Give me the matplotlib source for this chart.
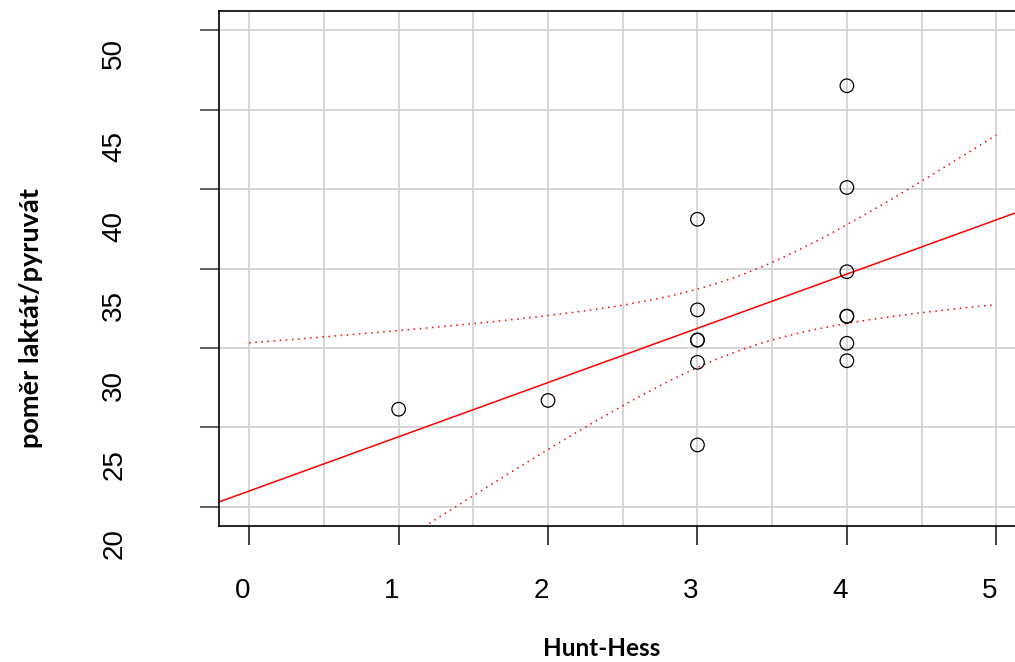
import numpy as np
import matplotlib
matplotlib.use("Agg")
import matplotlib.pyplot as plt
from matplotlib import transforms

# Hunt-Hess grade vs lactate/pyruvate ratio
hunt_hess = [1, 2, 3, 3, 3, 3, 3, 3, 4, 4, 4, 4, 4, 4, 4]
lp_ratio = [26.15, 26.7, 38.1, 32.4, 30.5, 30.5, 29.1, 23.9,
            46.5, 40.1, 34.8, 32.0, 32.0, 30.3, 29.2]
x_ticks = [0, 1, 2, 3, 4, 5]
y_ticks = [20, 25, 30, 35, 40, 45, 50]
t_crit = 1.771  # t(0.95, df=13)

x = np.array(hunt_hess, dtype=float)
y = np.array(lp_ratio)
slope, icpt = np.polyfit(x, y, 1)
n = len(x)
resid = y - (icpt + slope * x)
s = np.sqrt(np.sum(resid ** 2) / (n - 2))
sxx = np.sum((x - x.mean()) ** 2)
xs = np.linspace(0, 5, 101)
fit = icpt + slope * xs
half = t_crit * s * np.sqrt(1 / n + (xs - x.mean()) ** 2 / sxx)

fig = plt.figure(figsize=(10.15, 6.62), dpi=100)
ax = fig.add_axes([0.2161, 0.2054, 0.7949, 0.7779])
ax.set_xlim(-0.2, 5.2)
ax.set_ylim(18.8, 51.2)

for gx in np.arange(0, 5.01, 0.5):
    ax.axvline(gx, color="#d3d3d3", lw=1.3, zorder=0)
for gy in y_ticks:
    ax.axhline(gy, color="#d3d3d3", lw=1.3, zorder=0)

ax.axline((0, icpt), slope=slope, color="red", lw=1.1, zorder=2)
ax.plot(xs, fit + half, color="red", lw=1.1, ls=(0, (1, 3)), zorder=2)
ax.plot(xs, fit - half, color="red", lw=1.1, ls=(0, (1, 3)), zorder=2)
ax.scatter(x, y, s=95, facecolors="none", edgecolors="black", linewidths=0.9, zorder=3)

for sp in ax.spines.values():
    sp.set_linewidth(1.2)
ax.spines["right"].set_visible(False)

ax.set_xticks(x_ticks, labels=[])
ax.set_yticks(y_ticks, labels=[])
ax.tick_params(axis="x", length=14, width=1.2, color="#222222")
ax.tick_params(axis="y", length=14, width=1.2, color="#444444")

tick_font = dict(family="Liberation Sans", fontsize=20)
xoff = transforms.ScaledTranslation(-0.07, -0.52, fig.dpi_scale_trans)
for v in x_ticks:
    ax.text(v, 0, str(v), ha="center", va="top",
            transform=ax.get_xaxis_transform() + xoff, **tick_font)
for v in y_ticks:
    dy = 0.23 if v == 50 else 0.37  # top label sits closer to its tick
    yoff = transforms.ScaledTranslation(-1.05, -dy, fig.dpi_scale_trans)
    ax.text(0, v, str(v), ha="center", va="center", rotation=90,
            transform=ax.get_yaxis_transform() + yoff, **tick_font)

fig.text(602 / 1015, 1 - 648 / 662, "Hunt-Hess", ha="center", va="center",
         family="Lato", fontsize=17.5, fontweight="bold")
fig.text(31 / 1015, 1 - 318 / 662, "poměr laktát/pyruvát", ha="center", va="center",
         rotation=90, family="Lato", fontsize=19.5, fontweight="bold")

fig.savefig("out.png", dpi=100)
